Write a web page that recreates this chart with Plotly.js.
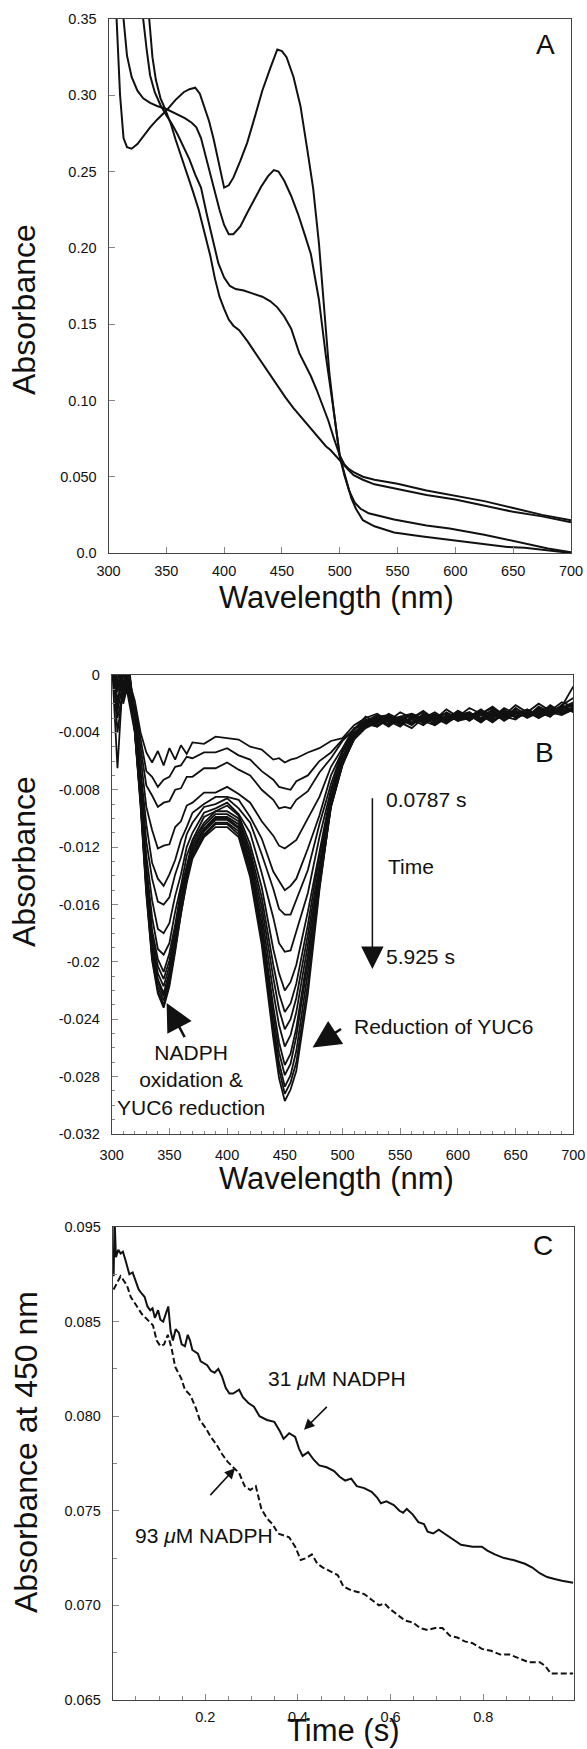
<!DOCTYPE html>
<html><head><meta charset="utf-8">
<script src="https://cdn.plot.ly/plotly-3.0.1.min.js"></script>
<style>html,body{margin:0;padding:0;background:#fff}#chart{width:587px;height:1749px}</style>
</head><body><div id="chart"></div>
<script>
// ---------- Panel A : absorbance spectra ----------
const aTickVals = [0, 0.05, 0.10, 0.15, 0.20, 0.25, 0.30, 0.35];
const aTickText = ['0.0', '0.050', '0.10', '0.15', '0.20', '0.25', '0.30', '0.35'];
const wlTicks = [300, 350, 400, 450, 500, 550, 600, 650, 700];

const aOxX = [305,307,310,313,316,320,325,330,336,342,350,358,365,370,375,379,383,387,391,395,400,404,408,414,420,427,433,440,446,450,454,460,466,472,477,482,485,488,491,495,498,500,503,506,510,514,520,530,547,570,595,620,645,660,680,700];
const aOxY = [0.42,0.35,0.30,0.272,0.266,0.265,0.268,0.273,0.279,0.284,0.29,0.297,0.302,0.304,0.305,0.301,0.292,0.283,0.271,0.257,0.2395,0.241,0.246,0.257,0.269,0.287,0.303,0.318,0.330,0.329,0.325,0.312,0.293,0.264,0.239,0.203,0.175,0.141,0.118,0.092,0.075,0.064,0.055,0.046,0.036,0.029,0.0215,0.0175,0.0135,0.011,0.0086,0.0062,0.004,0.0035,0.0018,0.0];

const aS2X = [312,313,316,320,325,330,336,342,350,358,366,372,376,380,384,388,392,396,400,404,408,414,420,426,432,438,443,447,452,458,464,470,475,482,488,495,500,504,508,513,518,525,535,547,575,595,625,660,680,700];
const aS2Y = [0.37,0.35,0.326,0.312,0.303,0.298,0.295,0.293,0.291,0.288,0.285,0.282,0.279,0.272,0.26,0.25,0.237,0.225,0.215,0.209,0.209,0.214,0.223,0.232,0.24,0.247,0.251,0.25,0.244,0.234,0.222,0.208,0.196,0.166,0.129,0.092,0.063,0.051,0.041,0.033,0.029,0.026,0.024,0.022,0.018,0.016,0.012,0.006,0.003,0.0005];

const aS3X = [328,330,333,336,340,345,350,355,360,365,370,375,380,385,390,395,400,405,410,417,425,433,440,446,452,458,465,470,475,480,485,490,495,500,504,508,512,520,530,550,575,600,625,650,675,700];
const aS3Y = [0.37,0.35,0.33,0.313,0.302,0.2935,0.287,0.281,0.274,0.2665,0.258,0.248,0.2395,0.222,0.205,0.19,0.1805,0.175,0.173,0.172,0.170,0.168,0.165,0.161,0.155,0.147,0.131,0.124,0.116,0.107,0.097,0.087,0.075,0.064,0.058,0.055,0.053,0.050,0.048,0.0454,0.041,0.0376,0.034,0.0295,0.025,0.0214];

const aRedX = [333,335,338,341,345,349,354,358,363,368,373,378,383,388,392,396,400,404,408,413,420,427,433,440,446,453,460,466,474,482,488,492,496,500,504,508,512,520,530,550,575,600,625,650,675,700];
const aRedY = [0.37,0.35,0.325,0.31,0.298,0.291,0.281,0.271,0.26,0.249,0.237,0.225,0.21,0.195,0.18,0.168,0.16,0.153,0.149,0.146,0.139,0.131,0.124,0.1167,0.11,0.102,0.095,0.0897,0.082,0.075,0.07,0.0675,0.064,0.061,0.057,0.054,0.051,0.048,0.045,0.0418,0.038,0.0351,0.031,0.027,0.024,0.0201];

// ---------- Panel B : difference spectra ----------
const bTickVals = [0, -0.004, -0.008, -0.012, -0.016, -0.02, -0.024, -0.028, -0.032];
const bTickText = ['0', '-0.004', '-0.008', '-0.012', '-0.016', '-0.02', '-0.024', '-0.028', '-0.032'];
const bWl = [300,305,310,315,320,325,330,335,340,345,350,355,360,365,370,
  380,390,400,410,420,430,440, 445,450,455, 460,470,480,490,500,510,
  520,530,540,550,560,570,580,590,600,610,620,630,640,650,660,670,680,690,700];

const b1 = [.0010,.0004,-.0012,-.0004,-.0018,-.0040,-.0054,-.0061,-.0053,-.0063,-.0051,-.0059,-.0049,-.0055,-.0047,
  -.0048,-.0043,-.0044,-.0045,-.0050,-.0052,-.0059, -.0058,-.0061,-.0059, -.0058,-.0054,-.0051,-.0046,-.0044,-.0035,
  -.0030,-.0027,-.0032,-.0026,-.0030,-.0025,-.0031,-.0024,-.0029,-.0023,-.0027,-.0022,-.0028,-.0021,-.0026,-.0020,-.0025,-.0019,-.0022];
const b2 = [.0020,-.0010,.0004,-.0013,-.0022,-.0046,-.0067,-.0071,-.0078,-.0073,-.0071,-.0064,-.0063,-.0057,-.0058,
  -.0054,-.0054,-.0051,-.0056,-.0059,-.0067,-.0073, -.0078,-.0079,-.0080, -.0074,-.0070,-.0060,-.0054,-.0045,-.0038,
  -.0033,-.0029,-.0028,-.0033,-.0027,-.0030,-.0026,-.0031,-.0025,-.0029,-.0024,-.0030,-.0023,-.0027,-.0024,-.0028,-.0021,-.0026,-.0023];
const b3 = [.0010,.0020,-.0017,-.0007,-.0024,-.0051,-.0077,-.0084,-.0092,-.0089,-.0088,-.0080,-.0079,-.0071,-.0071,
  -.0065,-.0065,-.0061,-.0066,-.0070,-.0080,-.0087, -.0093,-.0092,-.0093, -.0087,-.0081,-.0068,-.0058,-.0046,-.0038,
  -.0031,-.0034,-.0029,-.0030,-.0034,-.0027,-.0029,-.0032,-.0026,-.0031,-.0028,-.0025,-.0030,-.0026,-.0029,-.0023,-.0027,-.0024,-.0020];
const b4 = [.0015,.0005,-.0014,.0002,-.0027,-.0057,-.0092,-.0108,-.0121,-.0119,-.0118,-.0106,-.0102,-.0091,-.0089,
  -.0082,-.0082,-.0078,-.0083,-.0089,-.0102,-.0112, -.0119,-.0121,-.0118, -.0115,-.0100,-.0085,-.0064,-.0051,-.0037,
  -.0034,-.0030,-.0035,-.0031,-.0028,-.0033,-.0030,-.0027,-.0032,-.0028,-.0033,-.0026,-.0029,-.0031,-.0025,-.0030,-.0026,-.0028,-.0024];
const b5 = [.0020,-.0007,.0004,-.0011,-.0029,-.0066,-.0104,-.0131,-.0142,-.0147,-.0139,-.0129,-.0115,-.0106,-.0096,
  -.0090,-.0085,-.0085,-.0087,-.0099,-.0114,-.0137, -.0144,-.0150,-.0147, -.0142,-.0121,-.0098,-.0070,-.0053,-.0038,
  -.0029,-.0033,-.0027,-.0031,-.0035,-.0028,-.0032,-.0026,-.0030,-.0027,-.0031,-.0024,-.0028,-.0025,-.0029,-.0022,-.0026,-.0023,-.0021];
const b6 = [.0008,-.0025,-.0005,.0006,-.0031,-.0069,-.0116,-.0142,-.0158,-.0160,-.0155,-.0139,-.0127,-.0111,-.0103,
  -.0092,-.0090,-.0086,-.0093,-.0103,-.0125,-.0149, -.0163,-.0167,-.0167, -.0157,-.0136,-.0104,-.0076,-.0053,-.0041,
  -.0032,-.0028,-.0033,-.0029,-.0027,-.0032,-.0028,-.0031,-.0025,-.0030,-.0027,-.0023,-.0029,-.0025,-.0028,-.0024,-.0027,-.0021,-.0025];
const b7 = [.0012,-.0065,.0003,-.0009,-.0033,-.0074,-.0126,-.0157,-.0177,-.0180,-.0173,-.0154,-.0139,-.0120,-.0110,
  -.0096,-.0093,-.0089,-.0097,-.0110,-.0138,-.0169, -.0187,-.0193,-.0192, -.0179,-.0152,-.0113,-.0080,-.0054,-.0040,
  -.0034,-.0031,-.0028,-.0034,-.0030,-.0026,-.0033,-.0029,-.0027,-.0032,-.0026,-.0029,-.0024,-.0030,-.0027,-.0025,-.0029,-.0022,-.0026];
const b8 = [.0018,-.0018,.0001,-.0006,-.0034,-.0077,-.0133,-.0169,-.0191,-.0195,-.0187,-.0165,-.0147,-.0126,-.0115,
  -.0099,-.0095,-.0091,-.0098,-.0118,-.0148,-.0191, -.0208,-.0220,-.0214, -.0202,-.0165,-.0123,-.0082,-.0057,-.0040,
  -.0035,-.0029,-.0032,-.0036,-.0029,-.0031,-.0027,-.0033,-.0028,-.0026,-.0031,-.0027,-.0030,-.0023,-.0028,-.0026,-.0022,-.0027,-.0024];
const b9 = [.0025,-.0030,-.0012,.0004,-.0035,-.0081,-.0136,-.0178,-.0198,-.0207,-.0194,-.0174,-.0150,-.0132,-.0116,
  -.0103,-.0095,-.0095,-.0100,-.0122,-.0155,-.0202, -.0222,-.0235,-.0229, -.0215,-.0174,-.0126,-.0086,-.0057,-.0042,
  -.0033,-.0036,-.0030,-.0032,-.0028,-.0034,-.0029,-.0027,-.0031,-.0029,-.0025,-.0030,-.0026,-.0029,-.0024,-.0028,-.0025,-.0023,-.0019];
const b10 = [.0030,-.0008,.0002,-.0015,-.0036,-.0083,-.0139,-.0182,-.0203,-.0212,-.0199,-.0178,-.0153,-.0135,-.0118,
  -.0105,-.0097,-.0097,-.0102,-.0125,-.0161,-.0211, -.0233,-.0247,-.0240, -.0225,-.0181,-.0132,-.0086,-.0060,-.0041,
  -.0036,-.0032,-.0029,-.0033,-.0037,-.0030,-.0028,-.0032,-.0029,-.0026,-.0032,-.0028,-.0025,-.0029,-.0026,-.0030,-.0024,-.0027,-.0022];
const b11 = [.0015,.0008,-.0020,-.0003,-.0037,-.0084,-.0142,-.0186,-.0208,-.0217,-.0203,-.0181,-.0156,-.0137,-.0120,
  -.0107,-.0099,-.0099,-.0104,-.0128,-.0167,-.0221, -.0244,-.0259,-.0251, -.0235,-.0188,-.0136,-.0088,-.0061,-.0043,
  -.0034,-.0031,-.0036,-.0030,-.0033,-.0028,-.0035,-.0030,-.0027,-.0031,-.0028,-.0033,-.0027,-.0025,-.0030,-.0026,-.0028,-.0023,-.0025];
const b12 = [.0022,-.0003,-.0008,.0003,-.0038,-.0086,-.0145,-.0190,-.0212,-.0222,-.0207,-.0185,-.0159,-.0139,-.0122,
  -.0108,-.0100,-.0100,-.0106,-.0131,-.0173,-.0231, -.0256,-.0272,-.0264, -.0246,-.0195,-.0140,-.0090,-.0062,-.0043,
  -.0036,-.0033,-.0030,-.0035,-.0031,-.0029,-.0034,-.0028,-.0032,-.0030,-.0026,-.0031,-.0029,-.0027,-.0025,-.0029,-.0026,-.0024,-.0021];
const b13 = [.0012,-.0022,.0005,-.0012,-.0037,-.0087,-.0147,-.0192,-.0214,-.0224,-.0209,-.0187,-.0160,-.0140,-.0123,
  -.0109,-.0101,-.0101,-.0107,-.0133,-.0176,-.0237, -.0263,-.0279,-.0271, -.0252,-.0200,-.0142,-.0091,-.0062,-.0044,
  -.0032,-.0035,-.0031,-.0029,-.0034,-.0031,-.0028,-.0033,-.0029,-.0027,-.0030,-.0026,-.0032,-.0027,-.0029,-.0024,-.0028,-.0025,-.0023];
const b14 = [.0028,.0004,-.0016,-.0002,-.0039,-.0088,-.0149,-.0195,-.0217,-.0227,-.0212,-.0189,-.0162,-.0142,-.0125,
  -.0111,-.0103,-.0103,-.0109,-.0136,-.0180,-.0243, -.0270,-.0287,-.0279, -.0262,-.0207,-.0146,-.0092,-.0063,-.0044,
  -.0035,-.0031,-.0034,-.0030,-.0028,-.0033,-.0030,-.0034,-.0028,-.0030,-.0027,-.0032,-.0026,-.0029,-.0026,-.0028,-.0023,-.0027,-.0024];
const b15 = [.0018,-.0040,-.0010,.0005,-.0039,-.0089,-.0151,-.0197,-.0220,-.0230,-.0215,-.0191,-.0164,-.0143,-.0126,
  -.0112,-.0104,-.0104,-.0111,-.0139,-.0184,-.0248, -.0275,-.0292,-.0284, -.0270,-.0215,-.0148,-.0092,-.0062,-.0045,
  -.0037,-.0033,-.0030,-.0034,-.0031,-.0035,-.0029,-.0032,-.0030,-.0028,-.0033,-.0027,-.0030,-.0025,-.0028,-.0026,-.0029,-.0021,-.0016];
const b16 = [.0035,-.0012,.0003,-.0020,-.0040,-.0091,-.0153,-.0199,-.0222,-.0232,-.0217,-.0193,-.0166,-.0145,-.0128,
  -.0113,-.0106,-.0106,-.0113,-.0141,-.0188,-.0253, -.0281,-.0297,-.0289, -.0276,-.0222,-.0150,-.0090,-.0061,-.0045,
  -.0034,-.0036,-.0031,-.0033,-.0030,-.0032,-.0035,-.0029,-.0031,-.0027,-.0030,-.0028,-.0031,-.0026,-.0029,-.0027,-.0025,-.0022,-.0008];
const bCurves = [b1,b2,b3,b4,b5,b6,b7,b8,b9,b10,b11,b12,b13,b14,b15,b16];

// ---------- Panel C : kinetics at 450 nm ----------
const cXTickVals = [0.2, 0.4, 0.6, 0.8];
const cXTickText = ['0.2', '0.4', '0.6', '0.8'];
const cYTickVals = [0.065, 0.070, 0.075, 0.080, 0.085, 0.090];
const cYTickText = ['0.065', '0.070', '0.075', '0.080', '0.085', '0.095'];

const cT31 = [0.002,0.004,0.007,0.012,0.017,0.022,0.027,0.031,0.036,0.043,0.049,0.056,0.062,0.069,0.075,0.081,0.086,0.091,0.098,0.103,0.109,0.115,0.120,0.125,0.130,0.136,0.143,0.149,0.156,0.162,0.167,0.172,0.178,0.184,0.190,0.196,0.204,0.212,0.220,0.228,0.236,0.244,0.252,0.260,0.273,0.281,0.293,0.305,0.317,0.333,0.349,0.361,0.369,0.381,0.394,0.402,0.410,0.422,0.434,0.446,0.462,0.478,0.490,0.502,0.515,0.527,0.543,0.559,0.571,0.579,0.591,0.607,0.619,0.627,0.635,0.648,0.660,0.672,0.680,0.692,0.704,0.716,0.728,0.740,0.752,0.777,0.797,0.809,0.825,0.845,0.865,0.890,0.906,0.922,0.938,0.954,0.970,0.994];
const cA31 = [0.0874,0.0905,0.0884,0.0888,0.0886,0.0887,0.0883,0.0879,0.0875,0.0876,0.0872,0.0867,0.0865,0.0863,0.0858,0.0856,0.0857,0.0852,0.0856,0.0851,0.0850,0.0854,0.0858,0.0845,0.0840,0.0846,0.0844,0.0838,0.0837,0.0843,0.0840,0.0835,0.0834,0.0833,0.0829,0.0828,0.0827,0.0824,0.0823,0.0825,0.0821,0.0815,0.0812,0.0812,0.0814,0.0810,0.0807,0.0805,0.0800,0.0798,0.0797,0.0792,0.0788,0.0791,0.0789,0.0783,0.0779,0.0781,0.0777,0.0774,0.0773,0.0771,0.0768,0.0766,0.0767,0.0763,0.0762,0.0760,0.0757,0.0754,0.0755,0.0753,0.0750,0.0749,0.0751,0.0748,0.0744,0.0743,0.0739,0.0738,0.0740,0.0738,0.0736,0.0734,0.0732,0.0731,0.0731,0.0729,0.0727,0.0725,0.0724,0.0722,0.0720,0.0717,0.0715,0.0714,0.0713,0.0712];
const cT93 = [0.002,0.010,0.017,0.023,0.031,0.039,0.047,0.055,0.063,0.071,0.079,0.087,0.095,0.103,0.111,0.119,0.127,0.135,0.148,0.156,0.168,0.180,0.188,0.200,0.212,0.224,0.236,0.248,0.260,0.273,0.285,0.297,0.309,0.321,0.333,0.345,0.357,0.369,0.381,0.394,0.406,0.418,0.430,0.442,0.454,0.470,0.486,0.498,0.515,0.531,0.543,0.559,0.575,0.587,0.599,0.615,0.631,0.648,0.664,0.680,0.696,0.712,0.728,0.744,0.760,0.777,0.797,0.817,0.837,0.857,0.877,0.898,0.922,0.934,0.946,0.970,0.994];
const cA93 = [0.0867,0.0871,0.0874,0.0872,0.0869,0.0863,0.0860,0.0857,0.0854,0.0852,0.0850,0.0848,0.0840,0.0837,0.0838,0.0843,0.0836,0.0826,0.0820,0.0814,0.0811,0.0804,0.0798,0.0794,0.0789,0.0785,0.0780,0.0776,0.0773,0.0770,0.0763,0.0761,0.0763,0.0751,0.0746,0.0743,0.0738,0.0737,0.0736,0.0731,0.0724,0.0725,0.0727,0.0722,0.0720,0.0718,0.0716,0.0710,0.0708,0.0707,0.0706,0.0703,0.0700,0.0701,0.0698,0.0695,0.0692,0.0691,0.0688,0.0687,0.0688,0.0688,0.0684,0.0683,0.0681,0.0680,0.0677,0.0676,0.0674,0.0674,0.0672,0.0670,0.0670,0.0668,0.0664,0.0664,0.0664];

// ---------- layout helpers ----------
const W = 587, H = 1749;
const FONT = 'Liberation Sans, Arial, Helvetica, sans-serif';
const INK = '#111';
const fx = p => p / W;
const fy = p => 1 - p / H;

function ax(extra) {
  return Object.assign({
    showline: true, linecolor: '#444', linewidth: 1, mirror: true,
    ticks: 'inside', ticklen: 6, tickwidth: 1, tickcolor: '#888',
    showgrid: false, zeroline: false, fixedrange: true,
    tickfont: {family: FONT, size: 14.5, color: INK},
    ticklabelstandoff: 8
  }, extra);
}

const traces = [];
[[aOxX, aOxY], [aS2X, aS2Y], [aS3X, aS3Y], [aRedX, aRedY]].forEach(([x, y]) => {
  traces.push({x, y, xaxis: 'x', yaxis: 'y', type: 'scatter', mode: 'lines',
    line: {color: INK, width: 2}, hoverinfo: 'skip'});
});
bCurves.forEach(y => {
  traces.push({x: bWl, y, xaxis: 'x2', yaxis: 'y2', type: 'scatter', mode: 'lines',
    line: {color: INK, width: 1.8}, hoverinfo: 'skip'});
});
traces.push({x: cT31, y: cA31, xaxis: 'x3', yaxis: 'y3', type: 'scatter', mode: 'lines',
  line: {color: INK, width: 2}, hoverinfo: 'skip'});
traces.push({x: cT93, y: cA93, xaxis: 'x3', yaxis: 'y3', type: 'scatter', mode: 'lines',
  line: {color: INK, width: 2, dash: '6px,3px'}, hoverinfo: 'skip'});

const tFont = {family: FONT, size: 31, color: INK};
const yFont = {family: FONT, size: 32, color: INK};
const lFont = {family: FONT, size: 28, color: INK};
const nFont = {family: FONT, size: 21, color: INK};

function txt(xr, yr, x, y, text, font, extra) {
  return Object.assign({xref: xr, yref: yr, x, y, text, showarrow: false, font,
    xanchor: 'center', yanchor: 'middle'}, extra || {});
}
function arrow(xr, yr, x, y, axv, ayv, size, width) {
  return {xref: xr, yref: yr, axref: xr, ayref: yr, x, y, ax: axv, ay: ayv, text: '',
    showarrow: true, arrowhead: 2, arrowsize: size, arrowwidth: width, arrowcolor: INK,
    standoff: 0, startstandoff: 0};
}

const annotations = [
  // axis titles
  txt('paper', 'paper', fx(24), fy(310), 'Absorbance', yFont, {textangle: -90}),
  txt('paper', 'paper', fx(336), fy(598), 'Wavelength (nm)', tFont),
  txt('paper', 'paper', fx(24), fy(862), 'Absorbance', yFont, {textangle: -90}),
  txt('paper', 'paper', fx(336), fy(1178), 'Wavelength (nm)', tFont),
  txt('paper', 'paper', fx(26), fy(1452), 'Absorbance at 450 nm', yFont, {textangle: -90}),
  txt('paper', 'paper', fx(343), 0, 'Time (s)', tFont, {yanchor: 'bottom', borderpad: 0}),
  // panel letters
  txt('x', 'y', 678, 0.333, 'A', lFont),
  txt('x2', 'y2', 675, -0.0054, 'B', lFont),
  txt('x3', 'y3', 0.929, 0.0890, 'C', lFont),
  // panel B notes
  txt('x2', 'y2', 535.7, -0.00866, '0.0787 s', nFont, {xanchor: 'left'}),
  txt('x2', 'y2', 537.3, -0.01332, 'Time', nFont, {xanchor: 'left'}),
  txt('x2', 'y2', 535.7, -0.01965, '5.925 s', nFont, {xanchor: 'left'}),
  txt('x2', 'y2', 508, -0.02448, 'Reduction of YUC6', nFont, {xanchor: 'left'}),
  txt('x2', 'y2', 368.7, -0.02821, 'NADPH<br>oxidation &amp;<br>YUC6 reduction', nFont),
  arrow('x2', 'y2', 525.9, -0.0205, 525.9, -0.00848, 3, 1.5),
  arrow('x2', 'y2', 347.6, -0.02287, 363.9, -0.02535, 2.2, 2.5),
  arrow('x2', 'y2', 474.1, -0.02597, 500, -0.02461, 2.2, 2.5),
  // panel C notes
  txt('x3', 'y3', 0.485, 0.0820, '31 <i>μ</i>M NADPH', nFont),
  txt('x3', 'y3', 0.198, 0.0737, '93 <i>μ</i>M NADPH', nFont),
  arrow('x3', 'y3', 0.4131, 0.07929, 0.4655, 0.08057, 1.3, 1.6),
  arrow('x3', 'y3', 0.2642, 0.07725, 0.2078, 0.07575, 1.3, 1.6)
];

const layout = {
  width: W, height: H, margin: {l: 0, r: 0, t: 0, b: 0},
  paper_bgcolor: '#fff', plot_bgcolor: '#fff', showlegend: false,
  font: {family: FONT, color: INK},
  xaxis: ax({domain: [fx(108.5), fx(571)], anchor: 'y', range: [300, 700], tickvals: wlTicks, ticklabelstandoff: 5}),
  yaxis: ax({domain: [fy(553), fy(19)], anchor: 'x', range: [0, 0.35], tickvals: aTickVals, ticktext: aTickText}),
  xaxis2: ax({domain: [fx(111.7), fx(573.3)], anchor: 'y2', range: [300, 700], tickvals: wlTicks,
    minor: {ticks: 'inside', dtick: 10, tick0: 300, ticklen: 3, tickcolor: '#888'}}),
  yaxis2: ax({domain: [fy(1134), fy(675)], anchor: 'x2', range: [-0.032, 0], tickvals: bTickVals, ticktext: bTickText,
    minor: {ticks: 'inside', dtick: 0.001, tick0: 0, ticklen: 3, tickcolor: '#888'}}),
  xaxis3: ax({domain: [fx(112.7), fx(574)], anchor: 'y3', range: [0, 0.996], tickvals: cXTickVals, ticktext: cXTickText,
    ticklabelstandoff: 4,
    minor: {ticks: 'inside', dtick: 0.05, tick0: 0, ticklen: 4, tickcolor: '#888'}}),
  yaxis3: ax({domain: [fy(1700), fy(1227)], anchor: 'x3', range: [0.065, 0.090], tickvals: cYTickVals, ticktext: cYTickText,
    minor: {ticks: 'inside', dtick: 0.0025, tick0: 0.065, ticklen: 4, tickcolor: '#888'}}),
  annotations
};

Plotly.newPlot('chart', traces, layout, {staticPlot: true, displayModeBar: false});
</script></body></html>
